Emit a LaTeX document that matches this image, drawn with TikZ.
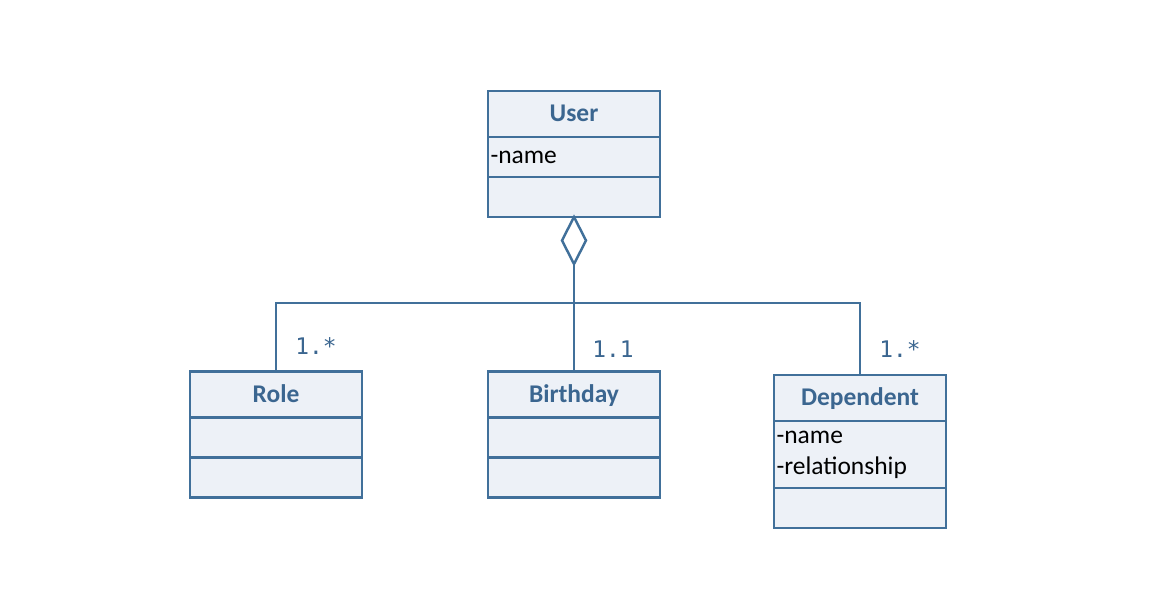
\documentclass[tikz,border=0pt]{standalone}
\usepackage{fontspec}
\setmainfont{Carlito}
\newfontfamily\multfont{DejaVu Sans Mono}
\usetikzlibrary{positioning,shapes.geometric}

\definecolor{umlline}{HTML}{41709A}
\definecolor{umlfill}{HTML}{EDF1F7}
\definecolor{umltext}{HTML}{3B6690}

\tikzset{
    classhead/.style={rectangle, draw=umlline, fill=umlfill, line width=1.2pt, outer sep=0pt, minimum width=3.44cm, minimum height=0.92cm, inner sep=0cm, text height=9pt, text depth=0pt, text=umltext, font=\fontsize{14.5}{17}\selectfont\bfseries},
    classpart/.style={rectangle, draw=umlline, fill=umlfill, line width=1.2pt, outer sep=0pt, minimum width=3.44cm, minimum height=0.8cm, text width=3.34cm, inner xsep=0.05cm, inner ysep=0cm, align=left, font=\fontsize{14.5}{17.5}\selectfont},
    link/.style={draw=umlline, line width=1.2pt},
    mult/.style={text=umltext, inner sep=0cm, font=\multfont\fontsize{13}{15}\selectfont}
}

\begin{document}
\begin{tikzpicture}[x=0.02cm, y=-0.02cm]
    \useasboundingbox (0,0) rectangle (1154,600);

    % user class
    \node (user) [classhead] at (574,114) {User};
    \node (userattr) [classpart, below=0cm of user] {-name};
    \node (userop) [classpart, below=0cm of userattr] {};

    % aggregation diamond
    \node (agg) [diamond, draw=umlline, fill=white, line width=1.4pt, outer sep=0pt, inner sep=0cm, minimum width=0.48cm, minimum height=0.94cm, anchor=north] at (userop.south) {};

    % parts
    \node (role) [classhead] at (276,394.5) {Role};
    \node (roleattr) [classpart, below=0cm of role] {};
    \node (roleop) [classpart, below=0cm of roleattr] {};

    \node (birthday) [classhead] at (574,394.5) {Birthday};
    \node (birthdayattr) [classpart, below=0cm of birthday] {};
    \node (birthdayop) [classpart, below=0cm of birthdayattr] {};

    \node (dependent) [classhead] at (860,398) {Dependent};
    \node (dependentattr) [classpart, below=0cm of dependent, minimum height=1.34cm] {-name\\-relationship};
    \node (dependentop) [classpart, below=0cm of dependentattr] {};

    \coordinate (bus) at (574,303);

    \path[link] (agg.south) -- (birthday.north);
    \path[link] (role.north) |- (bus) -| (dependent.north);

    % multiplicities
    \node (rolemult) [mult] at ([xshift=0.8cm, yshift=0.5cm]role.north) {1.*};
    \node (birthdaymult) [mult] at ([xshift=0.78cm, yshift=0.44cm]birthday.north) {1.1};
    \node (dependentmult) [mult] at ([xshift=0.8cm, yshift=0.52cm]dependent.north) {1.*};
\end{tikzpicture}
\end{document}
